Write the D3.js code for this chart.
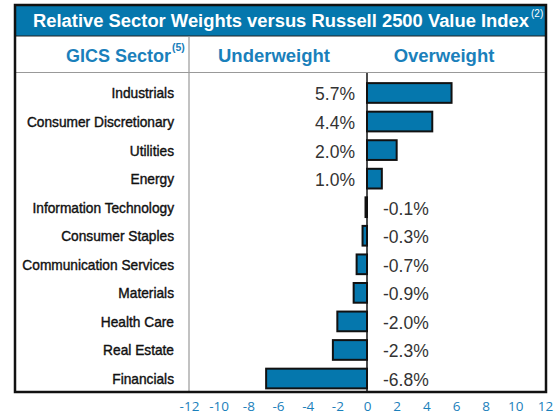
<!DOCTYPE html>
<html><head><meta charset="utf-8">
<script src="https://cdn.jsdelivr.net/npm/d3@7"></script>
<style>body{margin:0;background:#fff}svg{display:block}</style>
</head><body>
<script>
const sectors = ["Industrials","Consumer Discretionary","Utilities","Energy","Information Technology","Consumer Staples","Communication Services","Materials","Health Care","Real Estate","Financials"];
const weights = [5.7,4.4,2.0,1.0,-0.1,-0.3,-0.7,-0.9,-2.0,-2.3,-6.8];
const tickValues = [-12,-10,-8,-6,-4,-2,0,2,4,6,8,10,12];
const title = "Relative Sector Weights versus Russell 2500 Value Index";
const titleNote = "(2)";
const colHeaders = ["GICS Sector","Underweight","Overweight"];
const sectorNote = "(5)";

const W = 559, H = 414;
const blue = "#0577ad", textBlue = "#1a80bb";
const svg = d3.select("body").append("svg").attr("width", W).attr("height", H);

const L = 15, R = 546, T = 5, B = 392;
const x = d3.scaleLinear().domain([-12,12]).range([189,545]);
const y = d3.scaleBand().domain(sectors).range([78.7,392.8]).paddingInner(0.31).paddingOuter(0.155);
const ff = "Liberation Sans, Arial, sans-serif";

// header band
svg.append("rect").attr("x",L).attr("y",T).attr("width",R-L).attr("height",31).attr("fill",blue);
svg.append("line").attr("x1",L).attr("x2",R).attr("y1",36).attr("y2",36).attr("stroke","#222").attr("stroke-width",1.2);
svg.append("line").attr("x1",L).attr("x2",R).attr("y1",72.5).attr("y2",72.5).attr("stroke","#999").attr("stroke-width",1.2);
svg.append("line").attr("x1",189).attr("x2",189).attr("y1",36.5).attr("y2",B).attr("stroke","#999").attr("stroke-width",1.2);

svg.append("text").attr("x",281).attr("y",27).attr("text-anchor","middle")
  .attr("fill","#fff").attr("font-family",ff).attr("font-size",17.5).attr("font-weight","bold")
  .attr("textLength",496).attr("lengthAdjust","spacingAndGlyphs").text(title);
svg.append("text").attr("x",531).attr("y",17).attr("fill","#fff").attr("font-family",ff)
  .attr("font-size",10).text(titleNote);

svg.append("text").attr("x",171).attr("y",62).attr("text-anchor","end").attr("fill",textBlue)
  .attr("font-family",ff).attr("font-size",18).attr("font-weight","bold").text(colHeaders[0]);
svg.append("text").attr("x",172).attr("y",51).attr("fill",textBlue)
  .attr("font-family",ff).attr("font-size",10.5).attr("font-weight","bold").text(sectorNote);
svg.append("text").attr("x",274).attr("y",62).attr("text-anchor","middle").attr("fill",textBlue)
  .attr("font-family",ff).attr("font-size",18.5).attr("font-weight","bold").text(colHeaders[1]);
svg.append("text").attr("x",444).attr("y",62).attr("text-anchor","middle").attr("fill",textBlue)
  .attr("font-family",ff).attr("font-size",18.5).attr("font-weight","bold").text(colHeaders[2]);

// category labels
svg.append("g").attr("transform","translate(174,0) scale(0.96,1)")
  .selectAll("text").data(sectors).join("text")
  .attr("x",0).attr("y",d=>y(d)+y.bandwidth()/2+5.5).attr("text-anchor","end")
  .attr("font-family",ff).attr("font-size",14.3).attr("fill","#111")
  .attr("stroke","#111").attr("stroke-width",0.4)
  .text(d=>d);

// bars
svg.append("g").selectAll("rect").data(weights).join("rect")
  .attr("x",(d)=>x(Math.min(0,d))).attr("width",d=>Math.abs(x(d)-x(0)))
  .attr("y",(d,i)=>y(sectors[i])).attr("height",y.bandwidth())
  .attr("fill",blue).attr("stroke","#111").attr("stroke-width",2);

// zero line
svg.append("line").attr("x1",x(0)).attr("x2",x(0)).attr("y1",73).attr("y2",B).attr("stroke","#111").attr("stroke-width",1.5);

// value labels
svg.append("g").selectAll("text").data(weights).join("text")
  .attr("x",d=>d>=0?355:383).attr("text-anchor",d=>d>=0?"end":"start")
  .attr("y",(d,i)=>y(sectors[i])+y.bandwidth()/2+7.5)
  .attr("font-family",ff).attr("font-size",17.5).attr("fill","#333")
  .text(d=>d.toFixed(1)+"%");

// frame
svg.append("rect").attr("x",L).attr("y",T).attr("width",R-L).attr("height",B-T).attr("fill","none").attr("stroke","#111").attr("stroke-width",2.5);

// axis
const ax = svg.append("g").attr("transform",`translate(0,${B})`)
  .call(d3.axisBottom(x).tickValues(tickValues).tickSize(0).tickPadding(9).tickFormat(d=>String(d)));
ax.select(".domain").remove();
ax.selectAll("text").attr("fill",textBlue).attr("font-family","Open Sans, Liberation Sans, sans-serif").attr("font-size",13.5);
</script>
</body></html>
